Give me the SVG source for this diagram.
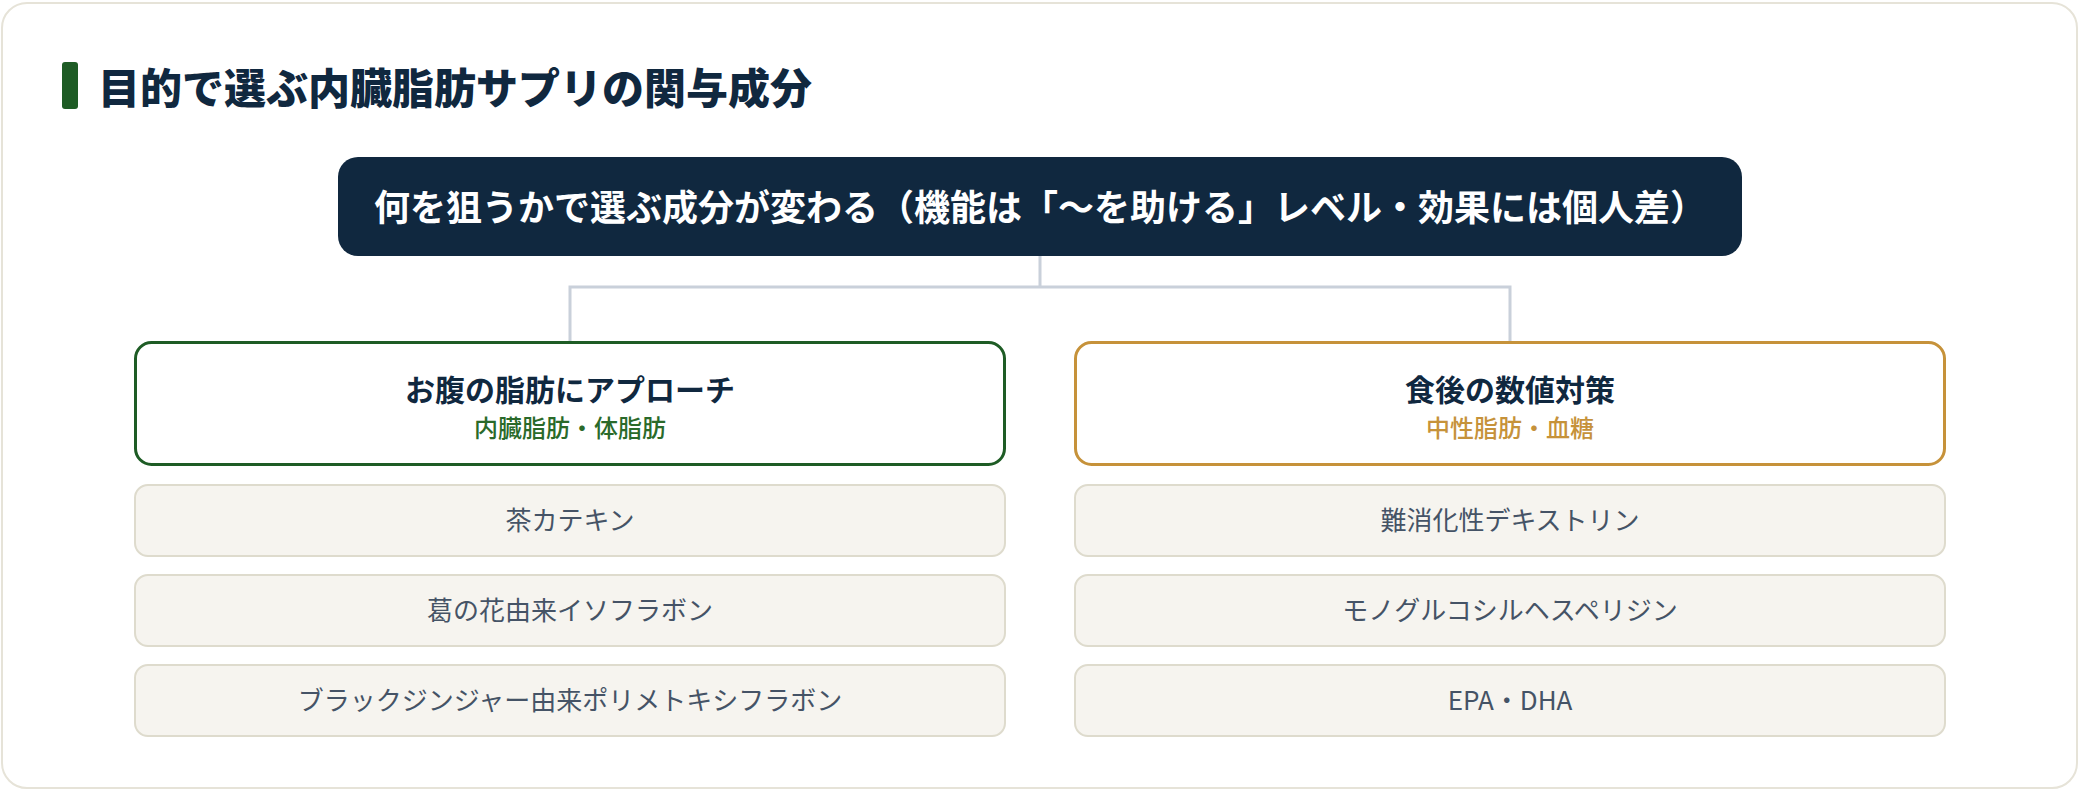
<svg xmlns="http://www.w3.org/2000/svg" width="2080" height="792" viewBox="0 0 2080 792">
  <style>
    text { font-family: "Noto Sans CJK JP", "Noto Sans", sans-serif; }
    .title { font-size: 42px; font-weight: 900; fill: #10283f; }
    .head { font-size: 36px; font-weight: 700; fill: #ffffff; text-anchor: middle; }
    .cat-title { font-size: 30px; font-weight: 700; fill: #10283f; text-anchor: middle; }
    .cat-sub { font-size: 24px; font-weight: 500; text-anchor: middle; }
    .item-box { fill: #f6f4ef; stroke: #dedbcd; stroke-width: 2; }
    .item-text { font-size: 26px; font-weight: 400; fill: #455366; text-anchor: middle; }
    .conn { fill: none; stroke: #c9d0da; stroke-width: 3; }
  </style>
  <rect x="0" y="0" width="2080" height="792" fill="#ffffff"/>
  <rect id="card" x="2" y="3" width="2075" height="785" rx="25" fill="#ffffff" stroke="#e6e3d8" stroke-width="2"/>

  <g id="title">
    <rect x="62" y="62" width="16" height="47" rx="3" fill="#1e5c25"/>
    <text class="title" x="98" y="104">目的で選ぶ内臓脂肪サプリの関与成分</text>
  </g>

  <g id="connectors">
    <path class="conn" d="M1040 256 V287 M570 287 H1510 M570 285.5 V341 M1510 285.5 V341"/>
  </g>

  <g id="header">
    <rect x="338" y="157" width="1404" height="99" rx="20" fill="#10283f"/>
    <text class="head" x="1040" y="221">何を狙うかで選ぶ成分が変わる（機能は「〜を助ける」レベル・効果には個人差）</text>
  </g>

  <g id="cat-left">
    <rect x="135.5" y="342.5" width="869" height="122" rx="16" fill="#ffffff" stroke="#1e5c25" stroke-width="3"/>
    <text class="cat-title" x="570" y="401">お腹の脂肪にアプローチ</text>
    <text class="cat-sub" x="570" y="437" fill="#2a6a2a">内臓脂肪・体脂肪</text>
  </g>

  <g id="cat-right">
    <rect x="1075.5" y="342.5" width="869" height="122" rx="16" fill="#ffffff" stroke="#c6923a" stroke-width="3"/>
    <text class="cat-title" x="1510" y="401">食後の数値対策</text>
    <text class="cat-sub" x="1510" y="437" fill="#c6923a">中性脂肪・血糖</text>
  </g>

  <g id="item-l1">
    <rect class="item-box" x="135" y="485" width="870" height="71" rx="13"/>
    <text class="item-text" x="570" y="530">茶カテキン</text>
  </g>
  <g id="item-l2">
    <rect class="item-box" x="135" y="575" width="870" height="71" rx="13"/>
    <text class="item-text" x="570" y="620">葛の花由来イソフラボン</text>
  </g>
  <g id="item-l3">
    <rect class="item-box" x="135" y="665" width="870" height="71" rx="13"/>
    <text class="item-text" x="570" y="710">ブラックジンジャー由来ポリメトキシフラボン</text>
  </g>

  <g id="item-r1">
    <rect class="item-box" x="1075" y="485" width="870" height="71" rx="13"/>
    <text class="item-text" x="1510" y="530">難消化性デキストリン</text>
  </g>
  <g id="item-r2">
    <rect class="item-box" x="1075" y="575" width="870" height="71" rx="13"/>
    <text class="item-text" x="1510" y="620">モノグルコシルヘスペリジン</text>
  </g>
  <g id="item-r3">
    <rect class="item-box" x="1075" y="665" width="870" height="71" rx="13"/>
    <text class="item-text" x="1510" y="710">EPA・DHA</text>
  </g>
</svg>
